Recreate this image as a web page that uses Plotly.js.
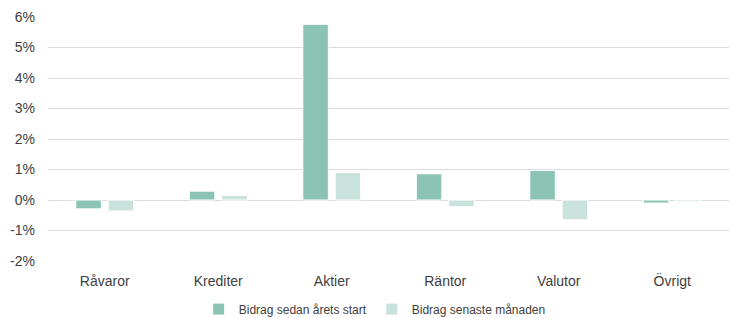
<!DOCTYPE html>
<html><head><meta charset="utf-8">
<script src="https://cdn.plot.ly/plotly-3.0.1.min.js"></script>
<style>html,body{margin:0;padding:0;background:#fff}#chart{width:729px;height:318px}</style>
</head><body><div id="chart"></div>
<script>
const categories = ["Råvaror", "Krediter", "Aktier", "Räntor", "Valutor", "Övrigt"];
const seriesNames = ["Bidrag sedan årets start", "Bidrag senaste månaden"];
const ytd = [-0.29, 0.29, 5.76, 0.86, 0.97, -0.10];
const lastMonth = [-0.36, 0.15, 0.90, -0.22, -0.65, -0.06];
const tickVals = [-2, -1, 0, 1, 2, 3, 4, 5, 6];
const tickText = ["-2%", "-1%", "0%", "1%", "2%", "3%", "4%", "5%", "6%"];

const font = "Liberation Sans, Arial, sans-serif";
const data = [
  {type: "bar", name: seriesNames[0], x: categories, y: ytd,
   marker: {color: "#8bc3b4", line: {color: "#ffffff", width: 1}}},
  {type: "bar", name: seriesNames[1], x: categories, y: lastMonth,
   marker: {color: "#c9e3dc", line: {color: "#ffffff", width: 1}}}
];
const layout = {
  width: 729, height: 318,
  margin: {l: 48, r: 0, t: 17, b: 57, autoexpand: false},
  paper_bgcolor: "#fff", plot_bgcolor: "#fff",
  font: {family: font, size: 14, color: "#404040"},
  barmode: "group", bargap: 0.43, bargroupgap: 0.21,
  showlegend: true,
  legend: {orientation: "h", x: 0.514, xanchor: "center", xref: "container",
           y: 0.028, yanchor: "middle", yref: "container",
           font: {size: 12, color: "#404040"}, itemwidth: 30, traceorder: "normal"},
  xaxis: {showgrid: false, zeroline: false, showline: false, ticks: "",
          ticklabelstandoff: 10,
          tickfont: {size: 14, color: "#404040"}, fixedrange: true},
  yaxis: {range: [-2, 6], tickvals: tickVals, ticktext: tickText,
          showgrid: true, gridcolor: "#dcdcdc", gridwidth: 1,
          zeroline: true, zerolinecolor: "#dcdcdc", zerolinewidth: 1,
          showline: false, ticks: "", ticklabelstandoff: 12,
          tickfont: {size: 14, color: "#404040"}, fixedrange: true}
};
Plotly.newPlot("chart", data, layout, {displayModeBar: false, staticPlot: true});
</script></body></html>
